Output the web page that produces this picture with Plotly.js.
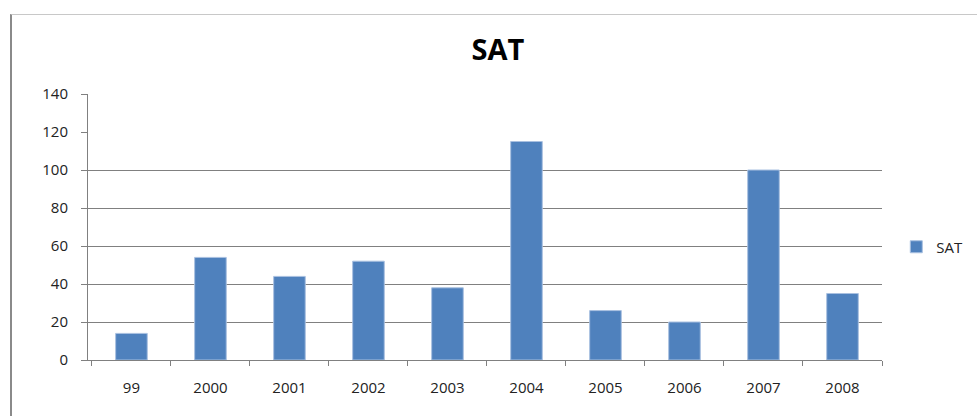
<!DOCTYPE html>
<html>
<head>
<meta charset="utf-8">
<script src="https://cdn.plot.ly/plotly-3.0.1.min.js"></script>
<style>
  html, body { margin: 0; padding: 0; background: #ffffff; }
  #wrap { position: relative; width: 977px; height: 416px; overflow: hidden; }
  #chart { position: absolute; left: 0; top: 0; width: 977px; height: 416px; }
  #frame { position: absolute; left: 10px; top: 14px; width: 980px; height: 420px;
           border-top: 1px solid #c8c8c8; border-left: 2px solid #8a8a8a; pointer-events: none; }
</style>
</head>
<body>
<div id="wrap">
  <div id="chart"></div>
  <div id="frame"></div>
</div>
<script>
// ---- data ----
const years = ["99", "2000", "2001", "2002", "2003", "2004", "2005", "2006", "2007", "2008"];
const satValues = [14, 54, 44, 52, 38, 115, 26, 20, 100, 35];
const yTickVals = [0, 20, 40, 60, 80, 100, 120, 140];
const yGridVals = [20, 40, 60, 80, 100, 140];
const seriesName = "SAT";
const chartTitle = "SAT";

const axisGray = "#808080";
const font = "'Open Sans', 'DejaVu Sans', sans-serif";

const traces = [{
  type: "bar",
  x: years,
  y: satValues,
  name: seriesName,
  marker: { color: "#4f81bd", line: { color: "#a9c0e0", width: 1 } },
  showlegend: true,
  hoverinfo: "x+y"
}];

// invisible helper trace so yaxis2 (gridlines only) is drawn
traces.push({
  type: "scatter",
  x: [years[0]],
  y: [0],
  yaxis: "y2",
  mode: "markers",
  marker: { opacity: 0 },
  showlegend: false,
  hoverinfo: "skip"
});

const layout = {
  width: 977,
  height: 416,
  paper_bgcolor: "#ffffff",
  plot_bgcolor: "#ffffff",
  margin: { l: 88, r: 95, t: 94, b: 56, pad: 0, autoexpand: false },
  font: { family: font, size: 15, color: "#222222" },
  title: {
    text: "<b>" + chartTitle + "</b>",
    font: { family: font, size: 29, color: "#000000" },
    x: 498 / 977, xanchor: "center", xref: "container",
    y: 1 - 50 / 416, yanchor: "middle", yref: "container"
  },
  bargap: 0.6,
  xaxis: {
    type: "category",
    showgrid: false,
    showline: true,
    linecolor: axisGray,
    linewidth: 1,
    ticks: "outside",
    tickson: "boundaries",
    ticklen: 5,
    tickcolor: axisGray,
    ticklabelstandoff: 14,
    tickfont: { family: font, size: 15, color: "#222222" },
    zeroline: false,
    fixedrange: true
  },
  yaxis: {
    range: [0, 140],
    tickvals: yTickVals,
    ticktext: yTickVals.map(String),
    showgrid: false,
    showline: true,
    linecolor: axisGray,
    linewidth: 1,
    ticks: "outside",
    ticklen: 6,
    tickcolor: axisGray,
    ticklabelstandoff: 10,
    tickfont: { family: font, size: 15, color: "#222222" },
    zeroline: false,
    fixedrange: true
  },
  yaxis2: {
    overlaying: "y",
    range: [0, 140],
    tickvals: yGridVals,
    showgrid: true,
    gridcolor: axisGray,
    gridwidth: 1,
    showticklabels: false,
    ticks: "",
    showline: false,
    zeroline: false,
    fixedrange: true
  },
  showlegend: true,
  legend: {
    x: 1.018, xanchor: "left",
    y: (416 - 247 - 56) / (416 - 94 - 56), yanchor: "middle",
    font: { family: font, size: 15, color: "#222222" },
    bgcolor: "rgba(0,0,0,0)",
    itemwidth: 30
  }
};

Plotly.newPlot("chart", traces, layout, { displayModeBar: false, staticPlot: true });
</script>
</body>
</html>
